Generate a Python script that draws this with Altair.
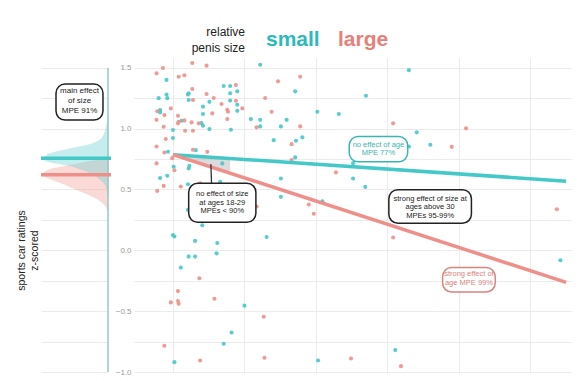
import altair as alt
import pandas as pd

FONT = "Liberation Sans"
TEAL = "#3EBFB8"
PINK = "#E38A87"
TEAL_LINE = "#4FC9C6"
PINK_LINE = "#EB958F"

# ---- scatter data (age, z-scored sports car rating) ----
small_age = [32.2, 19.1, 27.1, 28.0, 29.0, 28.0, 18.0, 19.1, 19.2, 22.1, 22.2, 22.2, 25.1, 28.0, 29.0, 29.0,
             24.2, 24.2, 18.2, 18.2, 21.2, 24.0, 24.2, 25.1, 20.0, 28.1, 37.1, 40.2, 43.2, 30.9, 32.2, 35.9,
             32.2, 35.1, 53.0, 47.0, 54.1, 56.0, 53.0, 45.2, 45.2, 46.9, 40.9, 74.2, 51.1, 34.1, 37.2, 38.1,
             37.1, 35.1, 35.1, 20.0, 19.3, 23.2, 20.1, 22.3, 22.2, 19.2, 18.2, 26.9, 26.6, 22.1, 22.1, 24.1,
             20.0, 20.2, 23.1, 26.2, 33.1, 26.1, 22.2, 23.1, 21.1, 30.0, 28.2, 27.1, 20.2, 40.3]
small_rating = [1.525, 1.40, 1.35, 1.35, 1.306, 1.29, 1.25, 1.28, 1.25, 1.28, 1.29, 1.235, 1.22, 1.23, 1.196, 1.146,
                1.18, 1.12, 1.152, 1.133, 1.064, 1.045, 1.023, 0.996, 0.988, 0.99, 1.306, 1.138, 1.12, 1.078, 1.072, 1.072,
                1.018, 1.018, 1.48, 1.27, 0.969, 0.867, 0.853, 0.716, 0.59, 0.521, 0.403, -0.082, -0.82, 0.905, 0.90, 0.928,
                0.763, 0.59, 0.439, 0.922, 0.81, 0.823, 0.686, 0.694, 0.672, 0.612, 0.593, 0.714, 0.562, 0.543, 0.332, 0.206,
                0.126, 0.113, 0.077, 0.06, 0.109, -0.025, -0.052, -0.052, -0.142, -0.455, -0.675, -0.768, -0.919, -0.905]
large_age = [17.7, 18.6, 22.7, 24.7, 20.8, 21.6, 28.8, 22.7, 22.8, 24.7, 25.7, 28.8, 26.8, 27.6, 27.7, 25.5,
             17.8, 18.8, 19.7, 20.7, 17.7, 20.8, 20.7, 21.6, 22.6, 23.6, 18.7, 21.7, 22.8, 27.6, 37.8, 34.7,
             32.9, 29.7, 33.8, 31.7, 37.8, 50.8, 61.0, 59.0, 36.6, 36.6, 42.8, 39.0, 39.7, 73.7, 50.8, 44.9,
             51.9, 19.0, 17.7, 18.8, 22.8, 24.8, 19.9, 17.7, 20.2, 18.7, 17.8, 21.1, 23.8, 23.7, 20.7, 19.7,
             20.7, 20.8, 25.8, 32.7, 18.8, 23.8, 32.8, 31.7]
large_rating = [1.454, 1.498, 1.539, 1.517, 1.426, 1.438, 1.358, 1.325, 1.235, 1.284, 1.251, 1.229, 1.202, 1.155, 1.138, 1.125,
                1.142, 1.111, 1.166, 1.105, 1.072, 1.056, 1.043, 1.067, 1.051, 1.043, 1.015, 0.982, 0.982, 1.078, 1.426, 1.388,
                1.251, 1.166, 1.138, 1.01, 1.018, 1.043, 1.002, 0.85, 0.872, 0.741, 0.64, 0.376, 0.30, 0.337, 0.105, -0.889,
                -0.952, 0.914, 0.853, 0.804, 0.826, 0.809, 0.757, 0.714, 0.658, 0.529, 0.488, 0.524, 0.551, -0.23,
                -0.335, -0.428, -0.417, -0.439, -0.398, -0.546, -0.784, -0.905, -0.883, 0.36]

# ---- regression lines ----
line_age = [20, 75]
small_line = [0.786, 0.568]
large_line = [0.786, -0.263]

# shaded region (ages 18-29) between the two lines
shade_age = [20, 28]
shade_top = [0.786, 0.754]
shade_bottom = [0.786, 0.633]

# ---- marginal posterior densities ----
small_dens_y = [1.11, 1.078, 1.04, 0.996, 0.95, 0.914, 0.893, 0.872, 0.855, 0.837, 0.826, 0.815, 0.804,
                0.790, 0.765, 0.749, 0.735, 0.72, 0.694, 0.65, 0.62, 0.598, 0.56, 0.529, 0.488, 0.45]
small_dens_w = [0.0, 0.005, 0.015, 0.03, 0.06, 0.10, 0.16, 0.25, 0.38, 0.55, 0.63, 0.72, 0.81,
                0.90, 0.96, 0.97, 0.93, 0.82, 0.55, 0.32, 0.20, 0.154, 0.07, 0.03, 0.005, 0.0]
large_dens_y = [0.755, 0.743, 0.727, 0.71, 0.694, 0.68, 0.667, 0.645, 0.626, 0.605, 0.58, 0.56, 0.543,
                0.50, 0.461, 0.43, 0.393, 0.36, 0.323]
large_dens_w = [0.0, 0.10, 0.30, 0.45, 0.60, 0.73, 0.85, 0.94, 0.975, 0.93, 0.83, 0.73, 0.65,
                0.47, 0.30, 0.18, 0.08, 0.03, 0.0]
group_means = [0.757, 0.62]
group_names = ["small", "large"]

# ---- annotations ----
ann_text = ["no effect of size\nat ages 18-29\nMPEs < 90%",
            "no effect of age\nMPE 77%",
            "strong effect of size at\nages above 30\nMPEs 95-99%",
            "strong effect of\nage MPE 99%"]
ann_x1 = [22.2, 44.66, 50.2, 57.72]
ann_x2 = [31.6, 52.83, 61.75, 65.08]
ann_y1 = [0.551, 0.936, 0.498, -0.142]
ann_y2 = [0.23, 0.727, 0.222, -0.343]
ann_cx = [26.9, 48.74, 55.97, 61.4]
ann_first_line = [0.461, 0.867, 0.425, -0.195]
ann_color = ["#222222", "#3AB5B0", "#222222", "#D9837E"]

main_ann_text = "main effect\nof size\nMPE 91%"

# ---------------- scales / axes ----------------
y_scale = alt.Scale(domain=[-1.0, 1.58], nice=False, zero=False)
x_main = alt.Scale(domain=[14.55, 75.68], nice=False, zero=False)
x_left = alt.Scale(domain=[-1.0, 0.0], nice=False, zero=False)
grid_vals = [-1.0, -0.75, -0.5, -0.25, 0.0, 0.25, 0.5, 0.75, 1.0, 1.25, 1.5]

y_axis_main = alt.Axis(values=grid_vals, grid=True, ticks=False, domain=False, title=None,
                       labelExpr="datum.value % 0.5 == 0 ? format(datum.value, '.1f') : ''",
                       labelFontSize=8, labelColor="#9A9A9A", labelPadding=3)
x_axis_main = alt.Axis(values=[20, 30, 40, 50, 60, 70], grid=True, labels=False, ticks=False,
                       domain=False, title=None)
y_axis_left = alt.Axis(values=grid_vals, grid=True, labels=False, ticks=False, domain=False,
                       title=["sports car ratings", "z-scored"], titleFontSize=10.5, titleFontWeight="normal",
                       titleColor="#222222", titlePadding=2, titleY=192)

W_MAIN, W_LEFT, H = 437, 67, 314

# ---------------- main panel ----------------
pts = pd.DataFrame({
    "age": small_age + large_age,
    "rating": small_rating + large_rating,
    "size": ["small"] * len(small_age) + ["large"] * len(large_age),
})
lines = pd.DataFrame({
    "age": line_age + line_age,
    "rating": small_line + large_line,
    "size": ["small", "small", "large", "large"],
})
shade = pd.DataFrame({"age": shade_age, "top": shade_top, "bottom": shade_bottom})
ann = pd.DataFrame({"text": ann_text, "x1": ann_x1, "x2": ann_x2, "y1": ann_y1, "y2": ann_y2,
                    "cx": ann_cx, "cy": ann_first_line, "color": ann_color})

shade_layer = alt.Chart(shade).mark_area(color="#BDBDBD", opacity=0.55).encode(
    x=alt.X("age:Q", scale=x_main, axis=x_axis_main),
    y=alt.Y("top:Q", scale=y_scale, axis=y_axis_main),
    y2="bottom:Q",
)
points_layer = alt.Chart(pts).mark_circle(size=17, opacity=0.9).encode(
    x=alt.X("age:Q", scale=x_main, axis=x_axis_main),
    y=alt.Y("rating:Q", scale=y_scale, axis=y_axis_main),
    color=alt.Color("size:N", scale=alt.Scale(domain=["small", "large"], range=[TEAL, PINK]), legend=None),
)
lines_layer = alt.Chart(lines).mark_line(strokeWidth=3.5).encode(
    x=alt.X("age:Q", scale=x_main, axis=x_axis_main),
    y=alt.Y("rating:Q", scale=y_scale, axis=y_axis_main),
    color=alt.Color("size:N", scale=alt.Scale(domain=["small", "large"], range=[TEAL_LINE, PINK_LINE]), legend=None),
)
connector = alt.Chart(pd.DataFrame({"a": [25.3], "a2": [25.4], "r": [0.708], "r2": [0.551]})).mark_rule(
    color="#333333", strokeWidth=1.3).encode(
    x=alt.X("a:Q", scale=x_main, axis=x_axis_main), x2="a2:Q",
    y=alt.Y("r:Q", scale=y_scale, axis=y_axis_main), y2="r2:Q",
)
boxes = alt.Chart(ann).mark_rect(cornerRadius=9, fill="white", strokeWidth=1.5).encode(
    x=alt.X("x1:Q", scale=x_main, axis=x_axis_main), x2="x2:Q",
    y=alt.Y("y1:Q", scale=y_scale, axis=y_axis_main), y2="y2:Q",
    stroke=alt.Stroke("color:N", scale=None),
)
box_text = alt.Chart(ann).mark_text(font=FONT, fontSize=7.5, lineHeight=8.5, lineBreak="\n",
                                    align="center", baseline="middle").encode(
    x=alt.X("cx:Q", scale=x_main, axis=x_axis_main),
    y=alt.Y("cy:Q", scale=y_scale, axis=y_axis_main),
    text="text:N",
    color=alt.Color("color:N", scale=None),
)


def legend_layers(visible=True):
    op = 1 if visible else 0
    t1 = alt.Chart(pd.DataFrame({"t": ["relative\npenis size"]})).mark_text(
        font=FONT, fontSize=12, lineHeight=16, lineBreak="\n", align="right", baseline="alphabetic",
        color="#222222", opacity=op
    ).encode(x=alt.value(111 if visible else 60), y=alt.value(-22), text="t:N")
    t2 = alt.Chart(pd.DataFrame({"t": ["small"]})).mark_text(
        font=FONT, fontSize=21, fontWeight="bold", align="left", baseline="alphabetic", color="#2DBABA", opacity=op
    ).encode(x=alt.value(132 if visible else 0), y=alt.value(-12), text="t:N")
    t3 = alt.Chart(pd.DataFrame({"t": ["large"]})).mark_text(
        font=FONT, fontSize=21, fontWeight="bold", align="left", baseline="alphabetic", color="#E8807A", opacity=op
    ).encode(x=alt.value(204 if visible else 0), y=alt.value(-12), text="t:N")
    return [t1, t2, t3]


main = alt.layer(shade_layer, points_layer, lines_layer, connector, boxes, box_text,
                 *legend_layers(True)).properties(width=W_MAIN, height=H)

# ---------------- left (marginal density) panel ----------------
dens_large = pd.DataFrame({"value": large_dens_y, "negw": [-w for w in large_dens_w],
                           "zero": [0.0] * len(large_dens_y)})
dens_small = pd.DataFrame({"value": small_dens_y, "negw": [-w for w in small_dens_w],
                           "zero": [0.0] * len(small_dens_y)})
means = pd.DataFrame({"m": group_means, "size": group_names, "xa": [-1.0, -1.0], "xb": [0.045, 0.045]})


def dens_layer(df, fill, stroke):
    return alt.Chart(df).mark_area(
        orient="horizontal", color=fill, opacity=0.4, stroke=stroke, strokeWidth=0.8, strokeOpacity=0.8
    ).encode(
        y=alt.Y("value:Q", scale=y_scale, axis=y_axis_left),
        x=alt.X("negw:Q", scale=x_left, axis=None),
        x2="zero:Q",
    )


pink_dens = dens_layer(dens_large, "#F5A19C", "#D99A96")
teal_dens = dens_layer(dens_small, "#6FD3D3", "#7FBFBF")
vline = alt.Chart(pd.DataFrame({"x": [0.0], "a": [1.5], "b": [-1.0]})).mark_rule(
    color="#93C9C9", strokeWidth=1.5).encode(
    x=alt.X("x:Q", scale=x_left, axis=None),
    y=alt.Y("a:Q", scale=y_scale, axis=y_axis_left), y2="b:Q",
)
mean_lines = alt.Chart(means).mark_rule(strokeWidth=3.5).encode(
    x=alt.X("xa:Q", scale=x_left, axis=None), x2="xb:Q",
    y=alt.Y("m:Q", scale=y_scale, axis=y_axis_left),
    color=alt.Color("size:N", scale=alt.Scale(domain=["small", "large"], range=["#45C8C8", "#EE8F8A"]), legend=None),
)
box1_df = pd.DataFrame({"x1": [-0.776], "x2": [-0.075], "y1": [1.366], "y2": [1.07],
                        "cx": [-0.425], "cy": [1.306], "t": [main_ann_text]})
box1 = alt.Chart(box1_df).mark_rect(cornerRadius=9, fill="white", stroke="#222222", strokeWidth=1.5).encode(
    x=alt.X("x1:Q", scale=x_left, axis=None), x2="x2:Q",
    y=alt.Y("y1:Q", scale=y_scale, axis=y_axis_left), y2="y2:Q",
)
box1_text = alt.Chart(box1_df).mark_text(font=FONT, fontSize=8, lineHeight=10, lineBreak="\n",
                                         align="center", baseline="middle", color="#222222").encode(
    x=alt.X("cx:Q", scale=x_left, axis=None),
    y=alt.Y("cy:Q", scale=y_scale, axis=y_axis_left),
    text="t:N",
)
left = alt.layer(pink_dens, teal_dens, vline, mean_lines, box1, box1_text,
                 *legend_layers(False)).properties(width=W_LEFT, height=H)

chart = alt.hconcat(left, main, spacing=2).properties(
    padding={"left": 8, "top": 18, "right": 0, "bottom": 0}
).configure_view(strokeWidth=0).configure_axis(
    gridColor="#EBEBEB", gridWidth=1, labelFont=FONT, titleFont=FONT
)

chart.save("out.html", embed_options={"renderer": "svg", "actions": False})
